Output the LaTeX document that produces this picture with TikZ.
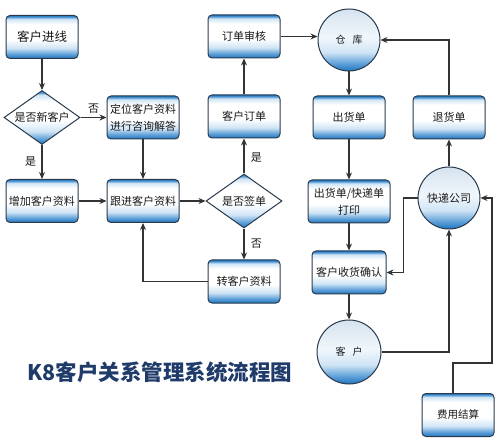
\documentclass[tikz,border=0pt]{standalone}
\usepackage{fontspec}
\newfontfamily\cjk{Noto Sans CJK SC}
\usetikzlibrary{positioning,shapes.geometric,arrows.meta}
\definecolor{flowblue}{HTML}{1F74BD}
\definecolor{flowmid}{HTML}{5D9FD8}
\definecolor{flowpale}{HTML}{CFE4F5}
\definecolor{flowtop}{HTML}{D5E3EF}
\definecolor{flowline}{HTML}{333333}
\definecolor{flowedge}{HTML}{2A3A4C}
\definecolor{titleblue}{HTML}{1F3B6A}
\pgfdeclareverticalshading{boxshade}{100bp}{color(0bp)=(flowblue); color(25bp)=(flowblue); color(30bp)=(flowmid); color(37bp)=(flowpale); color(47bp)=(white); color(65bp)=(white); color(71bp)=(flowpale); color(73bp)=(flowmid); color(75bp)=(flowblue); color(100bp)=(flowblue)}
\pgfdeclareverticalshading{ballshade}{100bp}{color(0bp)=(flowblue); color(25bp)=(flowblue); color(31bp)=(flowmid); color(40bp)=(flowpale); color(52bp)=(white!70!flowpale); color(75bp)=(flowtop); color(100bp)=(flowtop)}

\begin{document}
\begin{tikzpicture}[x=1pt, y=-1pt, >={Stealth[length=7pt,width=6pt]},
  font=\cjk\fontsize{11}{17}\selectfont,
  box/.style={draw=flowedge, line width=1pt, rounded corners=4pt, shading=boxshade, align=center,
    minimum width=72pt, minimum height=43pt, inner sep=2pt, text=black!90},
  dia/.style={diamond, draw=flowedge, line width=1pt, shading=boxshade, aspect=1.4,
    minimum width=76pt, minimum height=54pt, inner sep=0pt, text=black!90},
  ball/.style={circle, draw=flowedge, line width=1pt, shading=ballshade,
    minimum size=62pt, inner sep=0pt, text=black!90},
  link/.style={draw=flowline, line width=1.1pt, ->},
  tag/.style={font=\cjk\fontsize{11}{13}\selectfont, text=black!90}]
\useasboundingbox (0,0) rectangle (500,443);
\node[box, font=\cjk\fontsize{12.5}{15}\selectfont] (in) at (42,37) {客户进线};
\node[dia, below=31pt of in] (new) {是否新客户};
\node[box, right=26pt of new] (loc) {定位客户资料\\进行咨询解答};
\node[box, below=34pt of new] (add) {增加客户资料};
\node[box, right=28pt of add] (follow) {跟进客户资料};
\node[dia, right=26pt of follow] (sign) {是否签单};
\node[box, above=35pt of sign] (order) {客户订单};
\node[box, above=36pt of order] (audit) {订单审核};
\node[box, below=31pt of sign] (trans) {转客户资料};
\node[ball, font=\cjk\fontsize{10}{12}\selectfont] (store) at (349,40) {仓\hspace{7pt}库};
\node[box, below=24pt of store] (ship) {出货单};
\node[box, minimum width=82pt, below=40pt of ship] (print) {出货单/快递单\\打印};
\node[box, minimum width=74pt, below=27pt of print] (confirm) {客户收货确认};
\node[ball, minimum size=64pt, font=\cjk\fontsize{10}{12}\selectfont, below=25pt of confirm] (cust) {客\hspace{7pt}户};
\node[box, right=27pt of ship] (ret) {退货单};
\node[ball, below=27pt of ret] (express) {快递公司};
\node[box, font=\cjk\fontsize{10.5}{12}\selectfont] (fee) at (458,415) {费用结算};
\node[text=titleblue, font=\cjk\bfseries\fontsize{21.5}{24}\selectfont] (title) at (160,372) {K8客户关系管理系统流程图};
\coordinate (feeturn) at (492,363);
% left part
\draw[link] (in) -- (new);
\draw[link] (new) -- node[tag, above]{否} (loc);
\draw[link] (new) -- node[tag, left=2pt]{是} (add);
\draw[link] (loc) -- (follow);
\draw[link] (add) -- (follow);
\draw[link] (follow) -- (sign);
\draw[link] (sign) -- node[tag, pos=0.45, right=3pt]{是} (order);
\draw[link] (sign) -- node[tag, right=3pt]{否} (trans);
\draw[link] (trans.west) -| (follow.south);
\draw[link] (order) -- (audit);
\draw[link] (audit.east) -- (audit.east -| store.west);
% right part
\draw[link] (store) -- (ship);
\draw[link] (ship) -- (print);
\draw[link] (print) -- (confirm);
\draw[link] (confirm) -- (cust);
\draw[link] (express) -- (ret);
\draw[link] (ret.north) |- (store.east);
\draw[link] (express.west) -- ++(-14,0) |- (confirm.east);
\draw[link] (cust.east) -| (express.south);
\draw[link] ([xshift=-5pt]fee.north) |- (feeturn) |- (express.east);
\end{tikzpicture}
\end{document}
